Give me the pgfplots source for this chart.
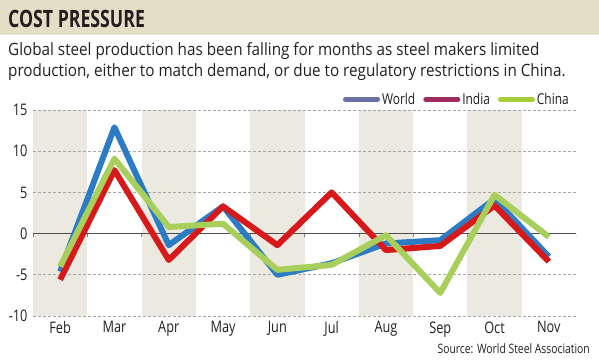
\documentclass[border=0pt]{standalone}
\usepackage{fontspec}
\setmainfont{Open Sans}[FakeStretch=0.90]
\newfontfamily\narrowfont{Open Sans}[FakeStretch=0.80]
\newfontfamily\titlefont{Open Sans}[FakeStretch=0.74]
\usepackage{pgfplots}
\pgfplotsset{compat=1.18}
\definecolor{band}{HTML}{ECEAE0}
\definecolor{titleband}{HTML}{E3DFC6}
\definecolor{cworld}{HTML}{2B7BC5}
\definecolor{cindia}{HTML}{D7191C}
\definecolor{cchina}{HTML}{A8CF5C}
\definecolor{lworld}{HTML}{6B6FA8}
\definecolor{lindia}{HTML}{9E2A5E}
\definecolor{lchina}{HTML}{A6CE39}
\definecolor{txt}{HTML}{231F20}
\begin{document}
\begin{tikzpicture}[x=1bp,y=1bp]
\useasboundingbox (0,0) rectangle (599,359);
\fill[titleband] (0,324) rectangle (599,359);
\node[anchor=base west, inner sep=0, font=\titlefont\fontsize{24}{26}\selectfont\bfseries, text=txt] at (8,332) {COST PRESSURE};
\node[anchor=base west, inner sep=0, font=\fontsize{17}{20}\selectfont, text=txt] at (8,304) {Global steel production has been falling for months as steel makers limited};
\node[anchor=base west, inner sep=0, font=\fontsize{17}{20}\selectfont, text=txt] at (8,283) {production, either to match demand, or due to regulatory restrictions in China.};
\node[anchor=base east, inner sep=0, font=\narrowfont\fontsize{13}{15}\selectfont, text=txt] at (590,6) {Source: World Steel Association};
\begin{axis}[
  at={(33bp,43bp)}, anchor=south west,
  scale only axis, width=543bp, height=206bp,
  xmin=-0.5, xmax=9.5, ymin=-10, ymax=15,
  axis line style={draw=none},
  xtick={0,...,9},
  xticklabels={Feb,Mar,Apr,May,Jun,Jul,Aug,Sep,Oct,Nov},
  ytick={-10,-5,0,5,10,15},
  major tick length=0pt,
  tick label style={font=\narrowfont\fontsize{16}{18}\selectfont, text=txt},
  /pgf/number format/assume math mode=true,
  xticklabel style={yshift=-2bp},
  yticklabel style={xshift=-2bp},
  legend style={draw=none, fill=none, at={(rel axis cs:1,1)}, anchor=south east,
    xshift=-2bp, yshift=0bp, font=\narrowfont\fontsize{15}{17}\selectfont, text=txt,
    /tikz/every even column/.append style={column sep=6bp}},
  legend columns=3,
  legend cell align=left,
  legend image code/.code={\draw[#1, line width=5bp, line cap=round] (0bp,0bp) -- (32bp,0bp);},
]
\foreach \c in {0,2,4,6,8} {
  \edef\tmp{\noexpand\fill[band] (axis cs:\c-0.5,-10) rectangle (axis cs:\c+0.5,15);}
  \tmp
}
\foreach \v in {-10,-5,5,10,15} {
  \edef\tmp{\noexpand\draw[gray!70, dashed, dash pattern=on 3bp off 2bp, line width=0.8bp] (axis cs:-0.5,\v) -- (axis cs:9.5,\v);}
  \tmp
}
\draw[black!70, line width=1.2bp] (axis cs:-0.5,0) -- (axis cs:9.5,0);
\foreach \c in {-0.5,0.5,1.5,2.5,3.5,4.5,5.5,6.5,7.5,8.5,9.5} {
  \edef\tmp{\noexpand\draw[black!50, line width=0.6bp] (axis cs:\c,0) -- ([yshift=-3bp]axis cs:\c,0);}
  \tmp
}
\addlegendimage{lworld}
\addlegendentry{World}
\addlegendimage{lindia}
\addlegendentry{India}
\addlegendimage{lchina}
\addlegendentry{China}
\addplot[cworld, line width=6bp, line join=round, forget plot] coordinates {
(0,-4.6) (1,12.9) (2,-1.4) (3,3.3) (4,-5.0) (5,-3.6) (6,-1.2) (7,-0.8) (8,4.2) (9,-2.8)};
\addplot[cindia, line width=6bp, line join=round, forget plot] coordinates {
(0,-5.6) (1,7.7) (2,-3.2) (3,3.3) (4,-1.4) (5,5.0) (6,-2.0) (7,-1.5) (8,3.4) (9,-3.4)};
\addplot[cchina, line width=6bp, line join=round, forget plot] coordinates {
(0,-4.0) (1,9.1) (2,0.8) (3,1.2) (4,-4.4) (5,-3.8) (6,-0.2) (7,-7.2) (8,4.7) (9,-0.4)};
\end{axis}
\end{tikzpicture}
\end{document}
